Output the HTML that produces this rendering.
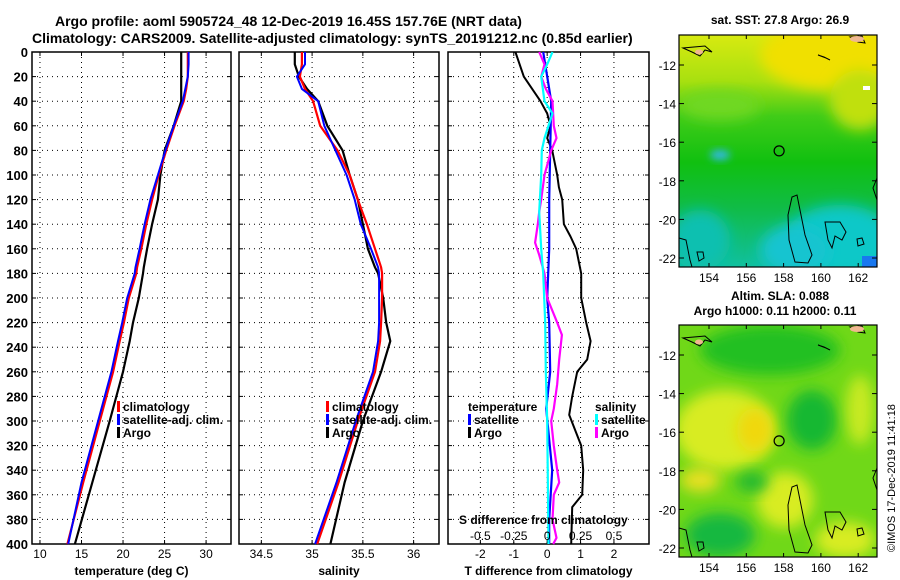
<!DOCTYPE html>
<html><head><meta charset="utf-8"><style>
html,body{margin:0;padding:0;background:#fff;}
svg{display:block;font-family:"Liberation Sans",Arial,sans-serif;font-weight:bold;}
</style></head><body>
<svg id="fig" width="900" height="580" viewBox="0 0 900 580" xmlns="http://www.w3.org/2000/svg">
<defs>
<filter id="blur8" x="-50%" y="-50%" width="200%" height="200%"><feGaussianBlur stdDeviation="7"/></filter>
<filter id="blur5" x="-50%" y="-50%" width="200%" height="200%"><feGaussianBlur stdDeviation="4"/></filter>
<linearGradient id="sstGrad" x1="0" y1="0" x2="0" y2="1">
<stop offset="0" stop-color="#d8ea10"/><stop offset="0.2" stop-color="#a8e010"/><stop offset="0.35" stop-color="#40cc18"/>
<stop offset="0.55" stop-color="#10c010"/><stop offset="0.75" stop-color="#10bc48"/><stop offset="1" stop-color="#10c0a0"/>
</linearGradient>
<clipPath id="clipTop"><rect x="679" y="35" width="198" height="232"/></clipPath>
<clipPath id="clipBot"><rect x="679" y="325" width="198" height="232"/></clipPath>
</defs>
<text x="55" y="26" font-size="14">Argo profile: aoml 5905724_48 12-Dec-2019 16.45S 157.76E (NRT data)</text>
<text x="32" y="43" font-size="14">Climatology: CARS2009. Satellite-adjusted climatology: synTS_20191212.nc (0.85d earlier)</text>

<g id="panels"></g>

<g>
<text x="780" y="24" font-size="12" text-anchor="middle">sat. SST: 27.8 Argo: 26.9</text>
<g clip-path="url(#clipTop)">
<rect x="679" y="35" width="198" height="232" fill="url(#sstGrad)"/>
<ellipse cx="830" cy="55" rx="70" ry="35" fill="#f0e000" filter="url(#blur8)"/>
<ellipse cx="860" cy="100" rx="30" ry="30" fill="#c0e010" filter="url(#blur8)"/>
<ellipse cx="720" cy="105" rx="40" ry="15" fill="#70d820" filter="url(#blur8)"/>
<ellipse cx="840" cy="240" rx="55" ry="35" fill="#10c8c8" filter="url(#blur8)"/>
<ellipse cx="795" cy="250" rx="35" ry="25" fill="#18c4d0" filter="url(#blur8)"/>
<ellipse cx="700" cy="240" rx="30" ry="30" fill="#10c0b0" filter="url(#blur8)"/>
<ellipse cx="720" cy="155" rx="10" ry="5" fill="#30b8e8" filter="url(#blur5)"/>
<rect x="862" y="256" width="15" height="11" fill="#1878f0"/>
<rect x="863" y="86" width="7" height="4" fill="#ffffff"/>
</g>
<rect x="679" y="35" width="198" height="232" fill="none" stroke="#000" stroke-width="1.2"/>
</g>

<g>
<text x="780" y="300" font-size="12" text-anchor="middle">Altim. SLA: 0.088</text>
<text x="775" y="315" font-size="12" text-anchor="middle">Argo h1000: 0.11 h2000: 0.11</text>
<g clip-path="url(#clipBot)">
<rect x="679" y="325" width="198" height="232" fill="#70d818"/>
<ellipse cx="770" cy="350" rx="70" ry="25" fill="#20c020" filter="url(#blur8)"/>
<ellipse cx="725" cy="430" rx="50" ry="40" fill="#d8ec20" filter="url(#blur8)"/>
<ellipse cx="755" cy="430" rx="18" ry="22" fill="#f0d810" filter="url(#blur8)"/>
<ellipse cx="812" cy="420" rx="25" ry="30" fill="#18b830" filter="url(#blur8)"/>
<ellipse cx="860" cy="410" rx="14" ry="35" fill="#c8ea20" filter="url(#blur8)"/>
<ellipse cx="720" cy="535" rx="35" ry="22" fill="#18b840" filter="url(#blur8)"/>
<ellipse cx="785" cy="500" rx="28" ry="28" fill="#d8ec20" filter="url(#blur8)"/>
<ellipse cx="845" cy="540" rx="30" ry="18" fill="#d8ec20" filter="url(#blur8)"/>
<ellipse cx="752" cy="482" rx="16" ry="10" fill="#20b830" filter="url(#blur8)"/>
<ellipse cx="700" cy="480" rx="20" ry="12" fill="#e8e020" filter="url(#blur8)"/>
</g>
<rect x="679" y="325" width="198" height="232" fill="none" stroke="#000" stroke-width="1.2"/>
</g>
<text transform="translate(895,552) rotate(-90)" font-size="11" font-weight="normal">©IMOS 17-Dec-2019 11:41:18</text>
<g id="maps"></g>
</svg>
<script>
// ---- Data ----
const depths = [0,10,20,30,40,60,80,100,120,140,160,175,180,200,220,235,260,300,350,400];
const tempClim = [27.8,27.8,27.8,27.6,27.3,26.2,25.2,24.3,23.5,22.8,22.2,21.7,21.6,20.7,20.1,19.6,18.8,17.2,15.2,13.3];
const tempSat  = [27.9,27.9,27.8,27.5,27.2,26.1,25.1,24.2,23.3,22.6,22.0,21.5,21.4,20.5,19.9,19.4,18.6,17.0,15.0,13.4];
const tempArgo = [27.0,27.0,27.0,27.0,27.0,26.1,25.0,24.5,24.2,23.5,22.9,22.5,22.4,21.9,21.2,20.8,20.0,18.4,16.3,14.2];
const salClim  = [34.9,34.9,34.88,34.93,35.01,35.08,35.25,35.37,35.45,35.54,35.62,35.68,35.69,35.69,35.68,35.67,35.62,35.45,35.26,35.05];
const salSat   = [34.93,34.93,34.85,34.9,35.06,35.12,35.23,35.34,35.42,35.48,35.58,35.65,35.66,35.66,35.66,35.65,35.6,35.43,35.24,35.03];
const salArgo  = [34.83,34.83,34.87,34.95,35.06,35.15,35.3,35.37,35.45,35.5,35.55,35.62,35.65,35.7,35.73,35.77,35.68,35.5,35.32,35.18];
const tDiffArgoDepths = [0,20,40,50,60,70,80,100,110,120,140,150,160,180,200,220,235,250,260,280,295,320,340,360,370,400];
const tDiffArgo = [-0.95,-0.7,-0.2,0.0,0.1,0.0,0.15,0.3,0.35,0.45,0.5,0.7,0.87,1.02,1.02,1.17,1.3,1.2,0.9,0.75,0.66,1.02,1.08,1.05,0.75,0.72];
const tDiffSatDepths = [0,20,40,80,120,160,200,220,260,290,340,380,400];
const tDiffSat  = [-0.12,0.0,0.12,0.09,0.06,0.06,0.0,0.06,0.09,-0.03,0.15,0.06,0.06];
const sDiffArgoDepths = [0,10,20,30,40,60,70,80,100,120,130,140,155,165,180,200,220,230,250,270,290,300,320,340,350,360,380,395,400];
const sDiffArgo = [-0.06,-0.02,-0.045,-0.01,0.04,0.05,0.07,0.03,-0.02,-0.045,-0.06,-0.07,-0.09,-0.06,-0.02,0.0,0.075,0.11,0.09,0.075,0.05,0.03,0.05,0.075,0.09,0.05,0.04,0.07,0.045];
const sDiffSatDepths = [0,10,20,40,50,70,80,100,130,160,180,220,260,300,400];
const sDiffSat  = [0.04,0.0,-0.045,-0.02,0.04,-0.02,-0.04,-0.045,-0.06,-0.045,-0.03,-0.015,-0.01,0.0,0.01];
const depthTicks = [0,20,40,60,80,100,120,140,160,180,200,220,240,260,280,300,320,340,360,380,400];
const tempTicks = [10,15,20,25,30];
const salTicks = [34.5,35,35.5,36];
const tdTicks = [-2,-1,0,1,2];
const sdTickLabels = ["-0.5","-0.25","0","0.25","0.5"];
const sdTicks = [-0.5,-0.25,0,0.25,0.5];
const latTicks = [-12,-14,-16,-18,-20,-22];
const lonTicks = [154,156,158,160,162];

const NS="http://www.w3.org/2000/svg";
const top0=52, bot0=544;
const yScale = d => top0 + (d/400)*(bot0-top0);
function mk(tag, attrs, parent){const e=document.createElementNS(NS,tag);for(const k in attrs)e.setAttribute(k,attrs[k]);parent.appendChild(e);return e;}
const G=document.getElementById('panels');

function panel(name,x0,x1,dmin,dmax,ticks,tickLabels,xlabel,showDepth){
  const xs = v => x0 + (v-dmin)/(dmax-dmin)*(x1-x0);
  const g=mk('g',{},G);
  
  
  depthTicks.forEach(d=>{
    const y=yScale(d);
    const l=mk('line',{x1:x0,x2:x1,y1:y,y2:y,stroke:'#000','stroke-dasharray':'1,4','stroke-width':1},g);
    
    
    mk('line',{x1:x0,x2:x0+4,y1:y,y2:y,stroke:'#000'},g);
    mk('line',{x1:x1-4,x2:x1,y1:y,y2:y,stroke:'#000'},g);
    if(showDepth){const t=mk('text',{x:x0-4,y:y+5,'font-size':13,'text-anchor':'end'},g);t.textContent=d;
      
      }
  });
  ticks.forEach((v,i)=>{
    const x=xs(v);
    mk('line',{x1:x,x2:x,y1:top0,y2:bot0,stroke:'#000','stroke-dasharray':'1,4'},g);
    mk('line',{x1:x,x2:x,y1:bot0-4,y2:bot0,stroke:'#000'},g);
    mk('line',{x1:x,x2:x,y1:top0,y2:top0+4,stroke:'#000'},g);
    const t=mk('text',{x:x,y:bot0+14,'font-size':12,'font-weight':'normal','text-anchor':'middle'},g);t.textContent=tickLabels[i];
    
    
  });
  const r=mk('rect',{x:x0,y:top0,width:x1-x0,height:bot0-top0,fill:'none',stroke:'#000','stroke-width':1.5},g);
  
  
  const xl=mk('text',{x:(x0+x1)/2,y:575,'font-size':12,'text-anchor':'middle'},g);xl.textContent=xlabel;
  
  
  return {g,xs};
}
function line(p,vals,color,w,name,scaleFn,dep){
  const dd=dep||depths;
  let dstr='';
  vals.forEach((v,i)=>{dstr+=(i?'L':'M')+p.xs(scaleFn?scaleFn(v):v).toFixed(1)+','+yScale(dd[i]).toFixed(1);});
  const e=mk('path',{d:dstr,fill:'none',stroke:color,'stroke-width':w,'stroke-linejoin':'round'},p.g);
  
  
}
function legend(p,x,y,items,title){
  if(title){const t=mk('text',{x:x,y:y,'font-size':12},p.g);t.textContent=title;y+=13;
    
    }
  items.forEach(([lab,col])=>{
    mk('rect',{x:x,y:y-10,width:3,height:11,fill:col},p.g);
    const t=mk('text',{x:x+6,y:y,'font-size':12},p.g);t.textContent=lab;
    
    
    y+=13;
  });
}
const p1=panel('temperature',32,231,9.04,33.0,tempTicks,tempTicks,'temperature (deg C)',true);
line(p1,tempArgo,'#000',2.2,'argo-temperature-line');
line(p1,tempClim,'#f00',2.2,'climatology-temperature-line');
line(p1,tempSat,'#00f',2,'satellite-temperature-line');
legend(p1,117,411,[['climatology','#f00'],['satellite-adj. clim.','#00f'],['Argo','#000']]);

const p2=panel('salinity',239,439,34.28,36.25,salTicks,salTicks,'salinity',false);
line(p2,salArgo,'#000',2.2,'argo-salinity-line');
line(p2,salClim,'#f00',2.2,'climatology-salinity-line');
line(p2,salSat,'#00f',2,'satellite-salinity-line');
legend(p2,326,411,[['climatology','#f00'],['satellite-adj. clim.','#00f'],['Argo','#000']]);

const p3=panel('difference',448,649,-2.97,3.05,tdTicks,tdTicks,'T difference from climatology',false);
line(p3,tDiffArgo,'#000',2,'argo-t-diff-line',null,tDiffArgoDepths);
line(p3,tDiffSat,'#00f',2.2,'satellite-t-diff-line',null,tDiffSatDepths);
line(p3,sDiffArgo,'#f0f',2.2,'argo-s-diff-line',v=>v*4,sDiffArgoDepths);
line(p3,sDiffSat,'#0ff',2.2,'satellite-s-diff-line',v=>v*4,sDiffSatDepths);
legend(p3,468,411,[['satellite','#00f'],['Argo','#000']],'temperature');
legend(p3,595,411,[['satellite','#0ff'],['Argo','#f0f']],'salinity');
{const t=mk('text',{x:459,y:524,'font-size':12},p3.g);t.textContent='S difference from climatology';
 
 
 sdTicks.forEach((v,i)=>{const tt=mk('text',{x:p3.xs(v*4),y:540,'font-size':12,'font-weight':'normal','text-anchor':'middle'},p3.g);tt.textContent=sdTickLabels[i];
  
  });}

const M=document.getElementById('maps');
const lonX = v => 709 + (v-154)*18.65;
function mapAxes(y0,y1,lat12y){
  const latY = v => lat12y + (-12 - v)*19.3;
  latTicks.forEach(v=>{
    const y=latY(v);
    mk('line',{x1:679,x2:684,y1:y,y2:y,stroke:'#000'},M);
    mk('line',{x1:872,x2:877,y1:y,y2:y,stroke:'#000'},M);
    const t=mk('text',{x:676,y:y+5,'font-size':12,'font-weight':'normal','text-anchor':'end'},M);t.textContent=v;
    
    
  });
  lonTicks.forEach(v=>{
    const x=lonX(v);
    mk('line',{x1:x,x2:x,y1:y0,y2:y0+4,stroke:'#000'},M);
    mk('line',{x1:x,x2:x,y1:y1-4,y2:y1,stroke:'#000'},M);
    const t=mk('text',{x:x,y:y1+15,'font-size':12,'font-weight':'normal','text-anchor':'middle'},M);t.textContent=v;
    
    
  });
  const c=mk('circle',{cx:lonX(157.76),cy:latY(-16.45),r:5,fill:'none',stroke:'#000','stroke-width':1.2},M);
  
  
  const off=lat12y-65;
  const coasts=["M795,262 L789,240 L788,215 L792,197 L797,195 L800,210 L805,235 L812,255 L808,263 Z",
   "M825,222 L840,222 L846,232 L842,240 L835,236 L832,248 L828,240 Z",
   "M679,238 L686,240 L690,260 L692,267",
   "M697,252 L703,252 L704,258 L699,261 Z",
   "M857,239 L862,238 L864,244 L858,246 Z",
   "M877,178 L873,188 L877,200",
   "M683,48 L692,52 L700,56 L705,50 L712,52 L705,46 Z",
   "M850,37 L858,42 L865,43 L862,36 Z",
   "M818,55 L826,58 L830,60 L824,57 Z"];
  coasts.forEach(d=>{const p=mk('path',{d:d,fill:'none',stroke:'#000','stroke-width':1,transform:'translate(0,'+off+')'},M);
    
    });
  mk('ellipse',{cx:857,cy:39+off,rx:7,ry:3,fill:'#f0b890'},M);
  mk('ellipse',{cx:699,cy:52+off,rx:4,ry:2.5,fill:'#f0b890'},M);
}
mapAxes(35,267,65);
mapAxes(325,557,355);
</script>
</body></html>
